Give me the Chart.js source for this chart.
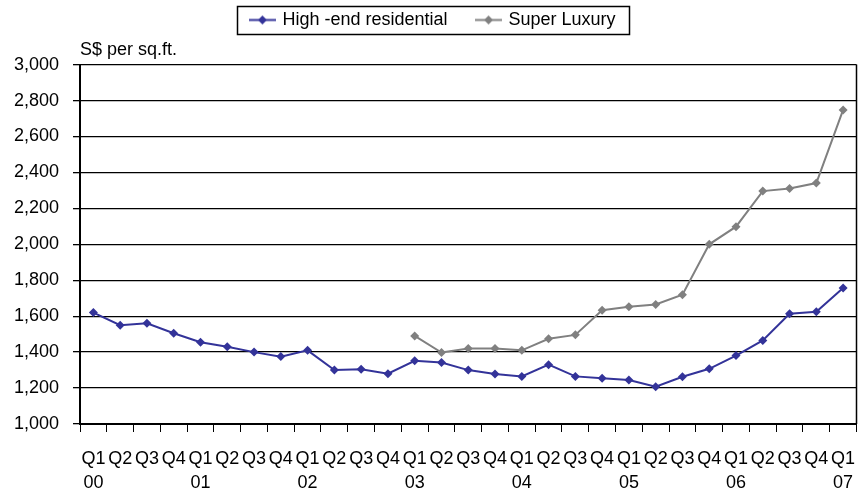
<!DOCTYPE html>
<html>
<head>
<meta charset="utf-8">
<script src="https://cdn.jsdelivr.net/npm/chart.js@4/dist/chart.umd.min.js"></script>
<style>
html,body{margin:0;padding:0;background:#fff;}
#wrap{width:861px;height:490px;position:relative;}
</style>
</head>
<body>
<div id="wrap"><canvas id="c" width="861" height="490"></canvas></div>
<script>
const xLabels = [
  ["Q1","00"],["Q2",""],["Q3",""],["Q4",""],
  ["Q1","01"],["Q2",""],["Q3",""],["Q4",""],
  ["Q1","02"],["Q2",""],["Q3",""],["Q4",""],
  ["Q1","03"],["Q2",""],["Q3",""],["Q4",""],
  ["Q1","04"],["Q2",""],["Q3",""],["Q4",""],
  ["Q1","05"],["Q2",""],["Q3",""],["Q4",""],
  ["Q1","06"],["Q2",""],["Q3",""],["Q4",""],
  ["Q1","07"]
];
const highEnd = [1620,1550,1560,1505,1455,1430,1400,1375,1410,1300,1305,1280,
                 1352,1342,1300,1278,1265,1330,1265,1255,1245,1207,1263,1307,
                 1381,1465,1613,1624,1757];
const superLuxury = [null,null,null,null,null,null,null,null,null,null,null,null,
                 1490,1398,1420,1420,1410,1474,1496,1633,1652,1665,1719,2000,
                 2098,2296,2310,2341,2748];
const yTicks = {min:1000, max:3000, step:200};
const seriesNames = ["High -end residential","Super Luxury"];
const yTitle = "S$ per sq.ft.";

const FONT = 'Arial, "Liberation Sans", sans-serif';
const FS = 18;
const BLUE = '#333399';
const GREY = '#808080';

function legendSymbol(color){
  const cv = document.createElement('canvas');
  cv.width = 27; cv.height = 11;
  const g = cv.getContext('2d');
  g.strokeStyle = color; g.lineWidth = 2;
  g.beginPath(); g.moveTo(0,5.5); g.lineTo(27,5.5); g.stroke();
  g.fillStyle = color;
  g.beginPath(); g.moveTo(13.5,1); g.lineTo(18,5.5); g.lineTo(13.5,10); g.lineTo(9,5.5); g.closePath(); g.fill();
  return cv;
}
const symbols = [legendSymbol(BLUE), legendSymbol(GREY)];

const framePlugin = {
  id:'frame',
  afterDraw(chart){
    const ctx = chart.ctx, a = chart.chartArea;
    ctx.save();
    ctx.strokeStyle = '#000'; ctx.lineWidth = 1.5;
    ctx.beginPath(); ctx.moveTo(a.right, a.top); ctx.lineTo(a.right, a.bottom); ctx.stroke();
    const hb = chart.legend && chart.legend.legendHitBoxes;
    if (hb && hb.length){
      const first = hb[0], last = hb[hb.length-1];
      const cy = first.top + first.height/2;
      const l = first.left - 14, r = last.left + last.width + 14;
      ctx.lineWidth = 1.5;
      ctx.strokeRect(Math.round(l)+0.5, Math.round(cy-14)+0.5, Math.round(r-l), 28);
    }
    ctx.restore();
  }
};

new Chart(document.getElementById('c'), {
  type:'line',
  data:{
    labels:xLabels,
    datasets:[
      {label:seriesNames[0], data:highEnd, borderColor:BLUE, backgroundColor:BLUE,
       borderWidth:2, pointStyle:'rectRot', pointRadius:4.5, pointBorderWidth:0, tension:0},
      {label:seriesNames[1], data:superLuxury, borderColor:GREY, backgroundColor:GREY,
       borderWidth:2, pointStyle:'rectRot', pointRadius:4.5, pointBorderWidth:0, tension:0}
    ]
  },
  options:{
    responsive:false, animation:false, devicePixelRatio:1,
    layout:{padding:{top:-19,right:2,left:8,bottom:0}},
    plugins:{
      legend:{
        position:'top', weight:1000, maxHeight:57,
        labels:{
          usePointStyle:true, pointStyleWidth:22, padding:30,
          color:'#000', font:{family:FONT, size:FS},
          generateLabels(chart){
            const items = Chart.defaults.plugins.legend.labels.generateLabels(chart);
            items.forEach((it,i)=>{ it.pointStyle = symbols[i]; });
            return items;
          }
        }
      },
      title:{
        display:true, text:yTitle, align:'start', fullSize:false, position:'top', weight:500,
        color:'#000', font:{family:FONT, size:FS, weight:'normal', lineHeight:1.2},
        padding:{top:1,bottom:4}
      },
      tooltip:{enabled:false}
    },
    scales:{
      x:{
        offset:true,
        grid:{display:true, drawOnChartArea:false, drawTicks:true, tickLength:8, color:'#000', lineWidth:1, offset:true},
        border:{display:true, color:'#000', width:2},
        ticks:{autoSkip:false, maxRotation:0, minRotation:0, padding:15, color:'#000',
               font:{family:FONT, size:FS, lineHeight:1.32}},
        afterFit(s){ s.height = 66; s.paddingLeft = 0; s.paddingRight = 0; }
      },
      y:{
        min:yTicks.min, max:yTicks.max,
        grid:{color:'#000', lineWidth:1.3, tickLength:7, drawTicks:true},
        border:{display:true, color:'#000', width:2},
        ticks:{stepSize:yTicks.step, padding:14, color:'#000', font:{family:FONT, size:FS},
               callback:v=>v.toLocaleString('en-US')},
        afterFit(s){ s.width = 72; }
      }
    }
  },
  plugins:[framePlugin]
});
</script>
</body>
</html>
